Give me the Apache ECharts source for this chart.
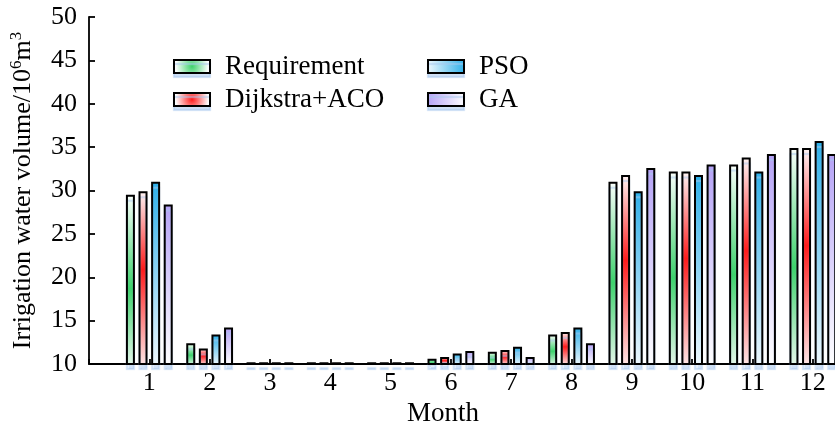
<!DOCTYPE html>
<html>
<head>
<meta charset="utf-8">
<script src="https://cdn.jsdelivr.net/npm/echarts@6/dist/echarts.min.js"></script>
<style>
  html, body { margin: 0; padding: 0; background: #fff; }
  #chart { width: 835px; height: 426px; }
</style>
</head>
<body>
<div id="chart"></div>
<script>
const months = [1, 2, 3, 4, 5, 6, 7, 8, 9, 10, 11, 12];
const seriesNames = ['Requirement', 'Dijkstra+ACO', 'PSO', 'GA'];
const requirement = [29.5, 12.4, 10.2, 10.2, 10.2, 10.6, 11.4, 13.4, 31.0, 32.2, 33.0, 34.9];
const dijkstraAco = [29.9, 11.8, 10.2, 10.2, 10.2, 10.8, 11.6, 13.7, 31.8, 32.2, 33.8, 34.9];
const pso = [31.0, 13.4, 10.2, 10.2, 10.2, 11.2, 12.0, 14.2, 29.9, 31.8, 32.2, 35.7];
const ga = [28.4, 14.2, 10.2, 10.2, 10.2, 11.5, 10.8, 12.4, 32.6, 33.0, 34.2, 34.2];
const yTicks = [10, 15, 20, 25, 30, 35, 40, 45, 50];

const font = 'Liberation Serif, Times New Roman, serif';

// gradient helpers, offset 0 = top of the bar
const lin = (stops, x2, y2) => ({
    type: 'linear', x: 0, y: 0, x2: x2, y2: y2,
    colorStops: stops.map(s => ({ offset: s[0], color: s[1] }))
});
const rad = (c) => ({
    type: 'radial', x: 0.5, y: 0.5, r: 1.1,
    colorStops: [{ offset: 0, color: c }, { offset: 1, color: '#ffffff' }]
});
const barFills = [
    lin([[0, '#fbfffc'], [0.55, '#3ed26c'], [1, '#e4f7e9']], 0, 1),
    lin([[0, '#fff6f6'], [0.45, '#ff1c1c'], [1, '#fde6e6']], 0, 1),
    lin([[0, '#2eb0ea'], [1, '#eef8fe']], 0, 1),
    lin([[0, '#b5a2f6'], [1, '#ffffff']], 0, 1)
];
const legendFills = [
    rad('#3ed26c'),
    rad('#ff1c1c'),
    lin([[0, '#f2fafe'], [1, '#2eb0ea']], 1, 0),
    lin([[0, '#b5a2f6'], [1, '#ffffff']], 1, 0)
];
const allData = [requirement, dijkstraAco, pso, ga];
const shadowBlue = 'rgba(170,200,238,0.55)';

const myChart = echarts.init(document.getElementById('chart'));

const legendBase = {
    orient: 'vertical',
    icon: 'rect',
    padding: 0,
    itemWidth: 36,
    itemHeight: 13,
    itemGap: 6,
    itemStyle: { borderColor: '#000', borderWidth: 2, shadowColor: shadowBlue, shadowBlur: 1, shadowOffsetY: 4 },
    textStyle: { fontFamily: font, fontSize: 27, lineHeight: 26, color: '#000', padding: [0, 0, 0, 10] }
};

const option = {
    animation: false,
    textStyle: { fontFamily: font },
    grid: { left: 89, right: -8, top: 17, bottom: 62, containLabel: false, outerBoundsMode: 'none' },
    legend: [
        Object.assign({}, legendBase, {
            left: 173, top: 53,
            data: [0, 1].map(i => ({ name: seriesNames[i], itemStyle: { color: legendFills[i] } }))
        }),
        Object.assign({}, legendBase, {
            left: 427, top: 53,
            data: [2, 3].map(i => ({ name: seriesNames[i], itemStyle: { color: legendFills[i] } }))
        })
    ],
    xAxis: {
        type: 'value',
        min: 0,
        max: 12.5,
        interval: 1,
        name: 'Month',
        nameLocation: 'middle',
        nameGap: 36,
        nameTextStyle: { fontFamily: font, fontSize: 27, color: '#000', padding: [0, 46, 0, 0] },
        splitLine: { show: false },
        axisLine: { lineStyle: { color: '#000', width: 1.8 } },
        axisTick: { inside: true, length: 5, lineStyle: { color: '#000', width: 1.8 } },
        axisLabel: {
            fontFamily: font, fontSize: 26, color: '#000', margin: 6,
            formatter: v => (months.indexOf(v) >= 0 ? String(v) : '')
        }
    },
    yAxis: {
        type: 'value',
        min: 10,
        max: 50,
        interval: 5,
        name: '{n|Irrigation water volume/10}{s|6}{n|m}{s|3}',
        nameLocation: 'middle',
        nameGap: 53,
        nameTextStyle: {
            color: '#000',
            rich: {
                n: { fontFamily: font, fontSize: 26, color: '#000', lineHeight: 28, verticalAlign: 'bottom' },
                s: { fontFamily: font, fontSize: 17, color: '#000', lineHeight: 28, verticalAlign: 'top' }
            }
        },
        splitLine: { show: false },
        axisLine: { show: true, lineStyle: { color: '#000', width: 1.8 } },
        axisTick: { show: true, inside: true, length: 6, lineStyle: { color: '#000', width: 1.8 } },
        axisLabel: {
            fontFamily: font, fontSize: 26, color: '#000', margin: 12,
            formatter: v => (yTicks.indexOf(v) >= 0 ? String(v) : '')
        }
    },
    series: seriesNames.map((name, i) => ({
        name: name,
        type: 'bar',
        barWidth: 9,
        barGap: '40%',
        data: allData[i].map((v, j) => [months[j], v]),
        itemStyle: {
            color: barFills[i],
            borderColor: '#000',
            borderWidth: 2,
            shadowColor: shadowBlue,
            shadowBlur: 1,
            shadowOffsetY: 5
        }
    }))
};

myChart.setOption(option);
</script>
</body>
</html>
